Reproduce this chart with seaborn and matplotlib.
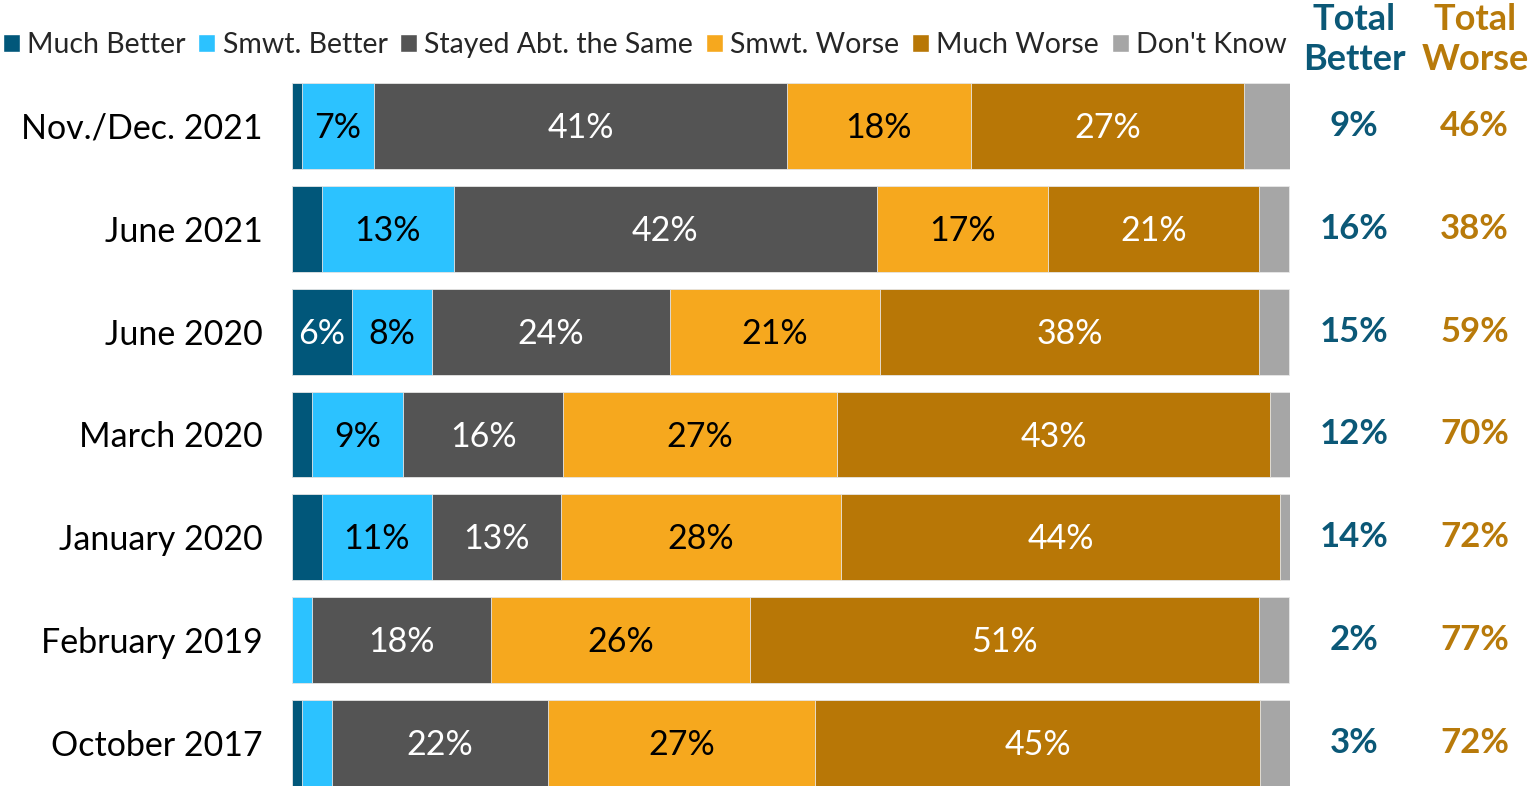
import numpy as np
import pandas as pd
import matplotlib.pyplot as plt
import seaborn as sns
from matplotlib.patches import Patch

# Dados
periodos = ["Nov./Dec. 2021", "June 2021", "June 2020", "March 2020",
            "January 2020", "February 2019", "October 2017"]
categorias = ["Much Better", "Smwt. Better", "Stayed Abt. the Same",
              "Smwt. Worse", "Much Worse", "Don't Know"]
much_better = [1.0, 3.0, 6.0, 2.0, 3.0, 0.0, 1.0]
smwt_better = [7.2, 13.2, 8.0, 9.1, 11.0, 2.0, 3.0]
same = [41.4, 42.4, 23.9, 16.1, 13.0, 17.9, 21.7]
smwt_worse = [18.4, 17.2, 21.0, 27.4, 28.0, 26.0, 26.7]
much_worse = [27.4, 21.1, 38.0, 43.4, 44.0, 51.0, 44.6]
dont_know = [4.6, 3.0, 3.0, 2.0, 1.0, 3.0, 3.0]
total_better = [9, 16, 15, 12, 14, 2, 3]
total_worse = [46, 38, 59, 70, 72, 77, 72]

cores = ["#01577A", "#2CC2FF", "#545454", "#F6A81E", "#B87706", "#A6A6A6"]
cores_texto = ["white", "black", "white", "black", "white", "black"]
cor_tb = "#0B5877"
cor_tw = "#B87A0A"

series = [much_better, smwt_better, same, smwt_worse, much_worse, dont_know]
df = pd.DataFrame(dict(zip(categorias, series)), index=periodos)
cum = df.cumsum(axis=1)

sns.set_theme(style="white")
plt.rcParams["font.family"] = ["Lato", "DejaVu Sans"]

fig = plt.figure(figsize=(15.29, 7.87), dpi=100)
ax = fig.add_axes([292 / 1529, 1 / 787, 998 / 1529, 703 / 787])

# barras empilhadas: desenha do total acumulado para o primeiro
for cat, cor in reversed(list(zip(categorias, cores))):
    sns.barplot(x=cum[cat].values, y=periodos, orient="h", color=cor,
                width=0.835, ax=ax, saturation=1, edgecolor="#e8e8e8",
                linewidth=0.6)

for i, p in enumerate(periodos):
    for j, cat in enumerate(categorias):
        v = df.loc[p, cat]
        if v >= 5:
            meio = cum.loc[p, cat] - v / 2
            ax.text(meio, i + 0.02, f"{round(v):.0f}%", ha="center", va="center",
                    fontsize=24.5, color=cores_texto[j])
    ax.text(106.4, i, f"{total_better[i]}%", ha="center", va="center",
            fontsize=25, fontweight="bold", color=cor_tb, clip_on=False)
    ax.text(118.5, i, f"{total_worse[i]}%", ha="center", va="center",
            fontsize=25, fontweight="bold", color=cor_tw, clip_on=False)

ax.set_xlim(0, 100)
ax.set_ylim(6.4175, -0.4175)
ax.set_xticks([])
ax.set_xlabel("")
ax.tick_params(axis="y", length=0, pad=21, labelsize=24.5, labelcolor="black")
for s in ax.spines.values():
    s.set_visible(False)

fig.text(1354 / 1529, 1 - 20 / 787, "Total", ha="center", va="center",
         fontsize=26, fontweight="bold", color=cor_tb)
fig.text(1354 / 1529, 1 - 60 / 787, "Better", ha="center", va="center",
         fontsize=26, fontweight="bold", color=cor_tb)
fig.text(1475 / 1529, 1 - 20 / 787, "Total", ha="center", va="center",
         fontsize=26, fontweight="bold", color=cor_tw)
fig.text(1475 / 1529, 1 - 60 / 787, "Worse", ha="center", va="center",
         fontsize=26, fontweight="bold", color=cor_tw)

handles = [Patch(facecolor=c, label=l) for c, l in zip(cores, categorias)]
fig.legend(handles=handles, loc="center left", bbox_to_anchor=(0.0, 1 - 45 / 787),
           ncol=6, frameon=False, fontsize=20.5, handlelength=0.6, handleheight=0.6,
           handletextpad=0.25, columnspacing=0.45, borderaxespad=0, borderpad=0.1)

fig.savefig("out.png", dpi=100)
